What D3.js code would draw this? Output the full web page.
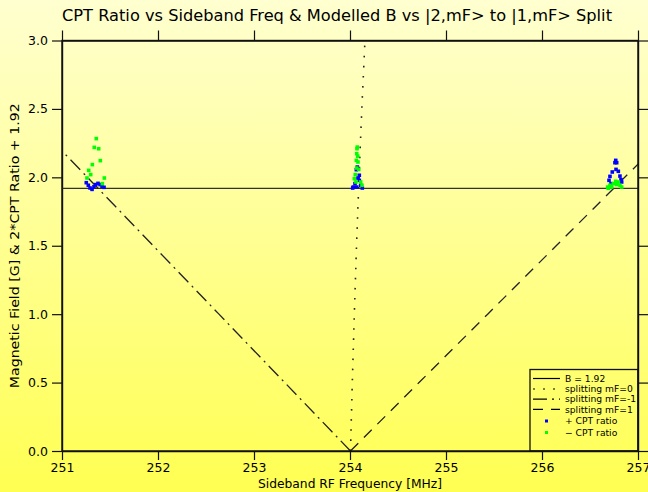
<!DOCTYPE html>
<html>
<head>
<meta charset="utf-8">
<script src="https://cdn.jsdelivr.net/npm/d3@7"></script>
<style>
  html, body { margin: 0; padding: 0; background: #ffff60; }
  svg { display: block; }
  text { font-family: "DejaVu Sans", sans-serif; fill: #000; }
</style>
</head>
<body>
<script>
// Sideband frequency axis ticks and magnetic field axis ticks
const xTicks = [251, 252, 253, 254, 255, 256, 257];
const yTicks = [0.0, 0.5, 1.0, 1.5, 2.0, 2.5, 3.0];
const bField = 1.92;

// Modelled field for each splitting: B values and the matching sideband frequency
const bModel = [0, 0.5, 1.0, 1.5, 2.0, 2.5, 3.0];
const freqMf0 = [254.005, 254.024, 254.045, 254.068, 254.094, 254.123, 254.156];
const freqMfMinus1 = [254.005, 253.320, 252.635, 251.950, 251.265, 250.580, 249.895];
const freqMfPlus1 = [254.005, 254.719, 255.434, 256.148, 256.862, 257.576, 258.291];

// Measured CPT ratio, plotted as 2*ratio + 1.92
const cptPlusFreq = [251.253, 251.274, 251.292, 251.313, 251.333, 251.351, 251.375, 251.396, 251.417, 251.438,
  254.076, 254.066, 254.097, 254.083, 254.052, 254.034, 254.028, 254.070, 254.111, 254.128, 254.097,
  256.768, 256.760, 256.778, 256.771, 256.732, 256.795, 256.708, 256.812, 256.698, 256.823, 256.719, 256.830];
const cptPlusY = [1.961, 1.942, 1.922, 1.912, 1.932, 1.947, 1.956, 1.947, 1.934, 1.927,
  2.075, 2.056, 2.015, 1.995, 1.954, 1.929, 1.922, 1.929, 1.942, 1.922, 1.978,
  2.124, 2.107, 2.107, 2.058, 2.039, 2.044, 2.007, 2.009, 1.978, 1.983, 1.954, 1.966];

const cptMinusFreq = [251.357, 251.336, 251.382, 251.399, 251.316, 251.278, 251.299, 251.260, 251.441, 251.420,
  254.076, 254.073, 254.070, 254.080, 254.066, 254.083, 254.070, 254.091, 254.055, 254.045, 254.062, 254.111, 254.125,
  256.684, 256.708, 256.743, 256.768, 256.795, 256.812, 256.690, 256.726, 256.778, 256.830];
const cptMinusY = [2.283, 2.219, 2.209, 2.122, 2.093, 2.051, 2.020, 1.995, 1.995, 1.954,
  2.221, 2.209, 2.173, 2.155, 2.124, 2.112, 2.068, 2.058, 2.020, 1.990, 1.966, 1.966, 1.942,
  1.929, 1.942, 1.954, 1.971, 1.966, 1.942, 1.920, 1.929, 1.947, 1.929];

const W = 648, H = 492;
const pLeft = 62, pRight = 638, pTop = 40.5, pBottom = 451;

const svg = d3.select("body").append("svg").attr("width", W).attr("height", H);

const defs = svg.append("defs");
const grad = defs.append("linearGradient").attr("id", "bg")
  .attr("x1", 0).attr("y1", 0).attr("x2", 0).attr("y2", 1);
grad.append("stop").attr("offset", "0%").attr("stop-color", "#ffffd0");
grad.append("stop").attr("offset", "100%").attr("stop-color", "#ffff52");
defs.append("clipPath").attr("id", "plotClip").append("rect")
  .attr("x", pLeft).attr("y", pTop).attr("width", pRight - pLeft).attr("height", pBottom - pTop);

svg.append("rect").attr("width", W).attr("height", H).attr("fill", "url(#bg)");

const x = d3.scaleLinear().domain([251, 257]).range([pLeft, pRight]);
const y = d3.scaleLinear().domain([0, 3]).range([pBottom, pTop]);

const fmtY = d3.format(".1f");

// Axes on all four sides, ticks pointing outward
const axisStyle = g => {
  g.selectAll(".domain").attr("stroke", "#111").attr("stroke-width", 1.4);
  g.selectAll(".tick line").attr("stroke", "#111").attr("stroke-width", 1.2);
  g.selectAll(".tick text").attr("font-size", 12.5).attr("font-family", "DejaVu Sans, sans-serif").attr("fill", "#000");
};
svg.append("g").attr("transform", `translate(0,${pBottom})`)
  .call(d3.axisBottom(x).tickValues(xTicks).tickFormat(d3.format("d")).tickSize(9).tickSizeOuter(0).tickPadding(3))
  .call(axisStyle);
svg.append("g").attr("transform", `translate(0,${pTop})`)
  .call(d3.axisTop(x).tickValues(xTicks).tickFormat("").tickSize(10).tickSizeOuter(0))
  .call(axisStyle);
svg.append("g").attr("transform", `translate(${pLeft},0)`)
  .call(d3.axisLeft(y).tickValues(yTicks).tickFormat(fmtY).tickSize(10).tickSizeOuter(0).tickPadding(4))
  .call(axisStyle);
svg.append("g").attr("transform", `translate(${pRight},0)`)
  .call(d3.axisRight(y).tickValues(yTicks).tickFormat("").tickSize(10).tickSizeOuter(0))
  .call(axisStyle);
svg.selectAll(".domain").attr("fill", "none");

const plot = svg.append("g").attr("clip-path", "url(#plotClip)");

// Constant field line
plot.append("line")
  .attr("x1", x(251)).attr("x2", x(257)).attr("y1", y(bField)).attr("y2", y(bField))
  .attr("stroke", "#333").attr("stroke-width", 1.3);

const line = freqs => d3.line().x((d, i) => x(freqs[i])).y(d => y(d))(bModel);

plot.append("path").attr("d", line(freqMf0)).attr("fill", "none")
  .attr("stroke", "#222").attr("stroke-width", 1.6).attr("stroke-dasharray", "1.6,8.5");
plot.append("path").attr("d", line(freqMfMinus1)).attr("fill", "none")
  .attr("stroke", "#222").attr("stroke-width", 1.3).attr("stroke-dasharray", "14,5,2,5");
plot.append("path").attr("d", line(freqMfPlus1)).attr("fill", "none")
  .attr("stroke", "#222").attr("stroke-width", 1.3).attr("stroke-dasharray", "11,8");

// CPT ratio points
plot.selectAll(".pPlus").data(cptPlusY).enter().append("rect")
  .attr("x", (d, i) => x(cptPlusFreq[i]) - 1.8).attr("y", d => y(d) - 1.8)
  .attr("width", 3.6).attr("height", 3.6).attr("fill", "#0000ff");
plot.selectAll(".pMinus").data(cptMinusY).enter().append("rect")
  .attr("x", (d, i) => x(cptMinusFreq[i]) - 1.8).attr("y", d => y(d) - 1.8)
  .attr("width", 3.6).attr("height", 3.6).attr("fill", "#00ff00");

// Frame around the plot area
svg.append("rect").attr("x", pLeft).attr("y", pTop).attr("width", pRight - pLeft).attr("height", pBottom - pTop)
  .attr("fill", "none").attr("stroke", "#111").attr("stroke-width", 1.4);

// Legend
const lg = svg.append("g");
const lx = 530, ly = 369.5;
lg.append("rect").attr("x", lx).attr("y", ly).attr("width", pRight - lx).attr("height", pBottom - ly)
  .attr("fill", "none").attr("stroke", "#111").attr("stroke-width", 1.3);
const legendItems = [
  { label: "B = 1.92", dash: null, color: "#000" },
  { label: "splitting mF=0", dash: "2,8", color: "#000" },
  { label: "splitting mF=-1", dash: "14,5,2,5", color: "#000" },
  { label: "splitting mF=1", dash: "10,8", color: "#000" },
  { label: "+ CPT ratio", marker: "#0000ff", color: "#0000ff" },
  { label: "\u2212 CPT ratio", marker: "#00ff00", color: "#00dd00" }
];
const rowY = [378.5, 389, 399.2, 409.4, 421, 432.5];
legendItems.forEach((it, i) => {
  const ry = rowY[i];
  if (it.marker) {
    lg.append("rect").attr("x", 545).attr("y", ry - 1.5).attr("width", 3).attr("height", 3).attr("fill", it.marker);
  } else {
    lg.append("line").attr("x1", 533).attr("x2", 560).attr("y1", ry).attr("y2", ry)
      .attr("stroke", "#000").attr("stroke-width", 1.2)
      .attr("stroke-dasharray", it.dash);
  }
  lg.append("text").attr("x", 565).attr("y", ry + 3.2).attr("font-size", 9.2)
    .attr("fill", it.color).text(it.label);
});

// Titles
svg.append("text").attr("x", 62).attr("y", 21).attr("font-size", 15)
  .attr("textLength", 550).attr("lengthAdjust", "spacingAndGlyphs")
  .text("CPT Ratio vs Sideband Freq & Modelled B vs |2,mF> to |1,mF> Split");
svg.append("text").attr("x", 350).attr("y", 488).attr("font-size", 12.5).attr("text-anchor", "middle")
  .attr("textLength", 184).attr("lengthAdjust", "spacingAndGlyphs")
  .text("Sideband RF Frequency [MHz]");
svg.append("text").attr("transform", `translate(19,${(pTop + pBottom) / 2}) rotate(-90)`)
  .attr("font-size", 12.5).attr("text-anchor", "middle")
  .attr("textLength", 285).attr("lengthAdjust", "spacingAndGlyphs")
  .text("Magnetic Field [G] & 2*CPT Ratio + 1.92");
</script>
</body>
</html>
